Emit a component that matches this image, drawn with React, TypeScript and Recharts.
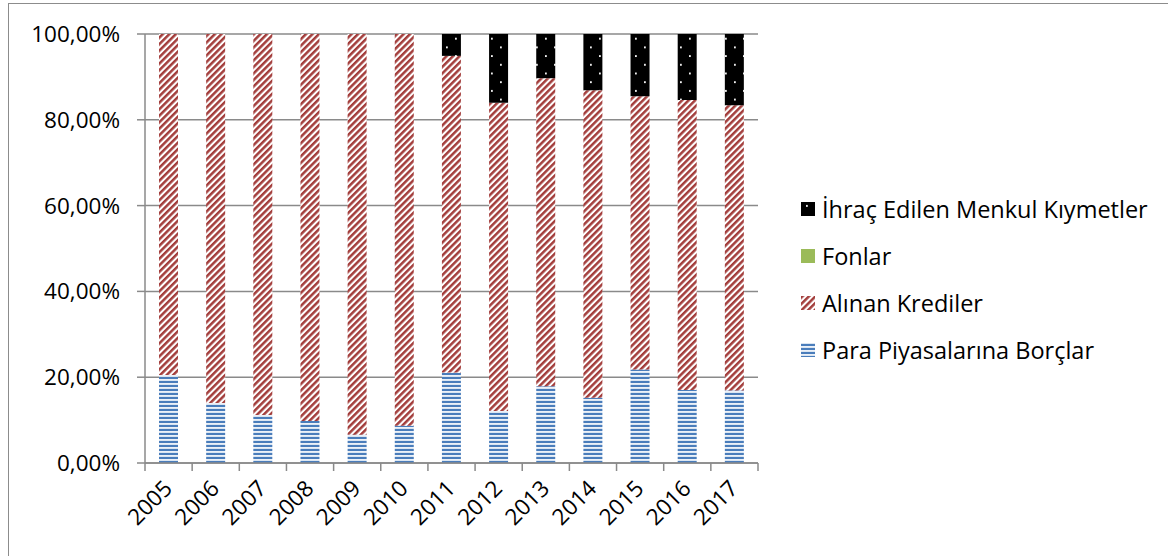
import React from "react";
import { BarChart, Bar, XAxis, YAxis, CartesianGrid, Legend } from "recharts";

// Yükümlülük dağılımı (%), yıllara göre
const years = ["2005", "2006", "2007", "2008", "2009", "2010", "2011", "2012", "2013", "2014", "2015", "2016", "2017"];
const paraPiyasalari = [20.5, 14.0, 11.2, 9.8, 6.6, 8.7, 21.1, 12.1, 17.9, 15.2, 21.8, 17.0, 16.9];
const alinanKrediler = [79.5, 86.0, 88.8, 90.2, 93.4, 91.3, 73.8, 71.9, 71.8, 71.7, 63.7, 67.6, 66.5];
const fonlar = [0, 0, 0, 0, 0, 0, 0, 0, 0, 0, 0, 0, 0];
const ihracMenkul = [0, 0, 0, 0, 0, 0, 5.1, 16.0, 10.3, 13.1, 14.5, 15.4, 16.6];
const yTicks = [0, 20, 40, 60, 80, 100];

const FONT = "'Open Sans', sans-serif";
const GRID = "#8a8a8a";

const W = 1160;
const H = 556;
const PLOT_LEFT = 145;
const PLOT_RIGHT = 758;
const BAND = (PLOT_RIGHT - PLOT_LEFT) / years.length;

const data = years.map((year, i) => ({
  year,
  para: paraPiyasalari[i],
  alinan: alinanKrediler[i],
  fonlar: fonlar[i],
  ihrac: ihracMenkul[i],
}));

const legendItems = [
  { label: "İhraç Edilen Menkul Kıymetler", fill: "url(#dotsBlack)" },
  { label: "Fonlar", fill: "#9bbb59" },
  { label: "Alınan Krediler", fill: "url(#hatchRed)" },
  { label: "Para Piyasalarına Borçlar", fill: "url(#stripeBlue)" },
];

const fmtPct = (v: number) => v.toFixed(2).replace(".", ",") + "%";

function Patterns() {
  return (
    <svg width={0} height={0} style={{ position: "absolute" }}>
      <defs>
        <pattern id="stripeBlue" patternUnits="userSpaceOnUse" width={8} height={4}>
          <rect width={8} height={4} fill="#ffffff" />
          <rect y={0.8} width={8} height={2.3} fill="#4a7dbb" />
        </pattern>
        <pattern id="hatchRed" patternUnits="userSpaceOnUse" width={4.6} height={4.6} patternTransform="rotate(45)">
          <rect width={4.6} height={4.6} fill="#ffffff" />
          <rect width={2.5} height={4.6} fill="#a33d3b" />
        </pattern>
        <pattern id="dotsBlack" patternUnits="userSpaceOnUse" width={18} height={17.4}>
          <rect width={18} height={17.4} fill="#000000" />
          <rect x={5} y={3} width={1.8} height={1.8} fill="#ffffff" />
          <rect x={14} y={11.7} width={1.8} height={1.8} fill="#ffffff" />
        </pattern>
      </defs>
    </svg>
  );
}

function YearTick(props: any) {
  const { x, y, payload, index } = props;
  const left = x - BAND / 2;
  const last = index === years.length - 1;
  return (
    <g>
      <line x1={left} y1={y} x2={left} y2={y + 8} stroke={GRID} strokeWidth={1.5} />
      {last && <line x1={x + BAND / 2} y1={y} x2={x + BAND / 2} y2={y + 8} stroke={GRID} strokeWidth={1.5} />}
      <text
        x={x + 5}
        y={y + 27}
        transform={`rotate(-45 ${x + 5} ${y + 27})`}
        textAnchor="end"
        fontFamily={FONT}
        fontSize={22.5}
        fill="#000"
      >
        {payload.value}
      </text>
    </g>
  );
}

function LegendBox() {
  return (
    <div style={{ fontFamily: FONT, fontSize: 23.5, color: "#000" }}>
      {legendItems.map((item) => (
        <div key={item.label} style={{ display: "flex", alignItems: "center", height: 47 }}>
          <svg width={14} height={14} style={{ marginRight: 7 }}>
            <rect width={14} height={14} fill={item.fill} />
          </svg>
          <span style={{ lineHeight: "24px", whiteSpace: "nowrap" }}>{item.label}</span>
        </div>
      ))}
    </div>
  );
}

export default function App() {
  return (
    <div style={{ position: "fixed", inset: 0, overflow: "hidden", background: "#fff" }}>
      <Patterns />
      <div
        style={{
          position: "absolute",
          left: 8,
          top: 3,
          width: 1200,
          height: 600,
          border: "1.5px solid #8c8c8c",
        }}
      />
      <div style={{ position: "absolute", left: 0, top: 0 }}>
        <BarChart
          width={W}
          height={H}
          data={data}
          margin={{ top: 34, right: W - PLOT_RIGHT, left: 0, bottom: 0 }}
          barSize={19}
        >
          <CartesianGrid vertical={false} stroke={GRID} strokeWidth={1.5} />
          <XAxis
            dataKey="year"
            height={93}
            tickSize={0}
            tickMargin={0}
            interval={0}
            axisLine={{ stroke: GRID, strokeWidth: 1.5 }}
            tick={<YearTick />}
          />
          <YAxis
            width={PLOT_LEFT}
            domain={[0, 100]}
            ticks={yTicks}
            tickFormatter={fmtPct}
            tickSize={8}
            tickMargin={17}
            axisLine={{ stroke: GRID, strokeWidth: 1.5 }}
            tickLine={{ stroke: GRID, strokeWidth: 1.5 }}
            tick={{ fontFamily: FONT, fontSize: 22.5, fill: "#000" }}
          />
          <Legend
            layout="vertical"
            align="center"
            verticalAlign="middle"
            wrapperStyle={{ left: 801, top: 185, width: 365 }}
            content={<LegendBox />}
          />
          <Bar dataKey="para" stackId="a" fill="url(#stripeBlue)" isAnimationActive={false} />
          <Bar dataKey="alinan" stackId="a" fill="url(#hatchRed)" isAnimationActive={false} />
          <Bar dataKey="fonlar" stackId="a" fill="#9bbb59" isAnimationActive={false} />
          <Bar dataKey="ihrac" stackId="a" fill="url(#dotsBlack)" isAnimationActive={false} />
        </BarChart>
      </div>
    </div>
  );
}
